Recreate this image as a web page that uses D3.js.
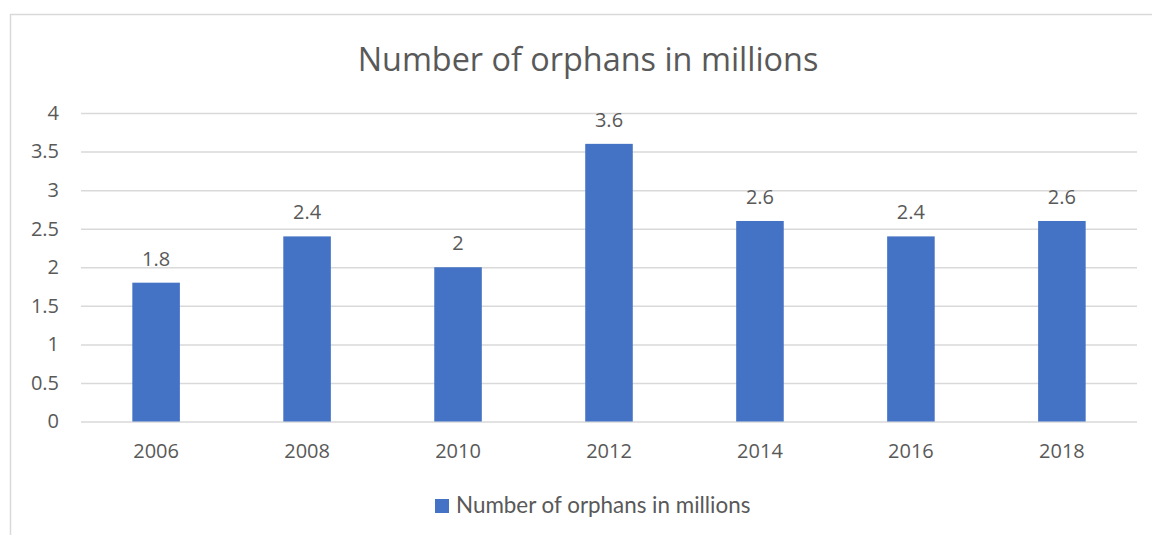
<!DOCTYPE html>
<html><head><meta charset="utf-8">
<script src="https://cdn.jsdelivr.net/npm/d3@7"></script>
<style>body{margin:0;background:#fff;} text{font-family:"Open Sans",sans-serif;fill:#595959;}</style>
</head><body><svg id="c" width="1152" height="535"></svg>
<script>
const categories = ["2006","2008","2010","2012","2014","2016","2018"];
const values = [1.8, 2.4, 2.0, 3.6, 2.6, 2.4, 2.6];
const yTicks = [0, 0.5, 1, 1.5, 2, 2.5, 3, 3.5, 4];
const seriesName = "Number of orphans in millions";
const chartTitle = "Number of orphans in millions";

(function(){
const svg = d3.select("#c");
svg.append("rect").attr("x",10.5).attr("y",14.5).attr("width",1160).attr("height",540)
  .attr("fill","#fff").attr("stroke","#d9d9d9").attr("stroke-width",1.5);

const pL = 81, pR = 1137, pT = 113, pB = 421.5;
const x = d3.scaleBand().domain(categories).range([pL,pR]).paddingInner(0.685).paddingOuter(0.34);
const y = d3.scaleLinear().domain([0,4]).range([pB,pT]);

svg.append("text").attr("x",588).attr("y",71).attr("text-anchor","middle")
  .style("font-size","32.4px").text(chartTitle);

const yAxis = svg.append("g").attr("transform",`translate(${pL},0)`)
  .call(d3.axisLeft(y).tickValues(yTicks).tickSize(-(pR-pL)).tickPadding(22).tickFormat(d3.format("")));
yAxis.select(".domain").remove();
yAxis.selectAll("line").attr("stroke","#d9d9d9").attr("stroke-width",1.5);
yAxis.selectAll("text").style("font-size","20px").attr("fill","#595959").attr("font-family","Open Sans");

const xAxis = svg.append("g").attr("transform",`translate(0,${pB})`)
  .call(d3.axisBottom(x).tickSize(0).tickPadding(22));
xAxis.select(".domain").remove();
xAxis.selectAll("text").style("font-size","20px").attr("fill","#595959").attr("font-family","Open Sans");

svg.selectAll(".bar").data(values).join("rect").attr("class","bar")
  .attr("x",(d,i)=>x(categories[i])).attr("width",x.bandwidth())
  .attr("y",d=>y(d)).attr("height",d=>y(0)-y(d)).attr("fill","#4472C4");

svg.selectAll(".lbl").data(values).join("text").attr("class","lbl")
  .attr("x",(d,i)=>x(categories[i])+x.bandwidth()/2).attr("y",d=>y(d)-17)
  .attr("text-anchor","middle").style("font-size","20px").text(d=>d3.format("")(d));

const lg = svg.append("g");
lg.append("rect").attr("x",435).attr("y",499).attr("width",14).attr("height",14).attr("fill","#4472C4");
lg.append("text").attr("x",456).attr("y",513).style("font-family","Lato").style("font-size","22.4px").text(seriesName);
})();
</script></body></html>
